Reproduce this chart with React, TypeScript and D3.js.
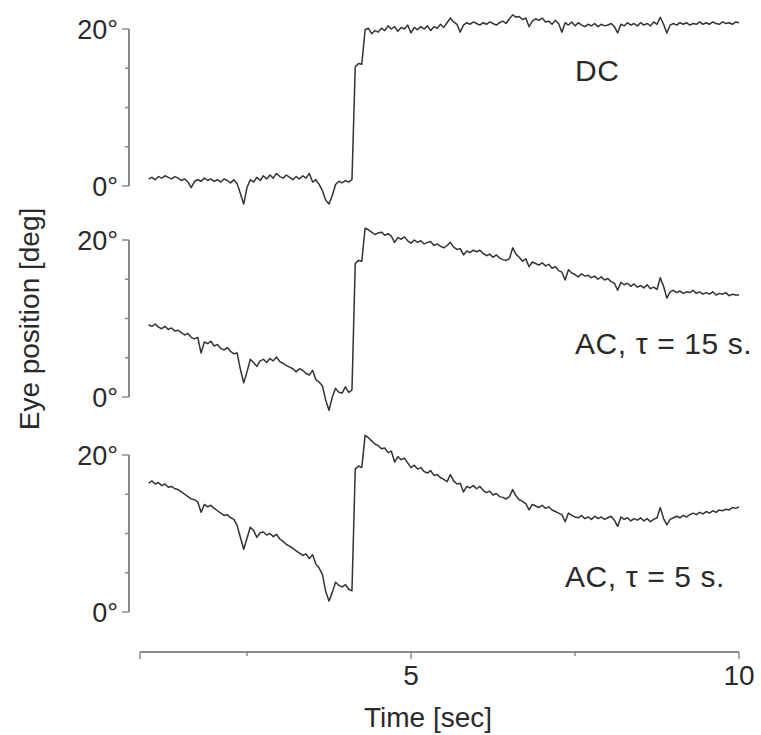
import React from 'react';
import * as d3 from 'd3';

// eye position traces, sampled every 0.05 s from t = 1 s to t = 10 s (degrees)
const SAMPLE_START = 1;
const SAMPLE_STEP = 0.05;

const dcTrace = [
  0.9, 1.1, 0.8, 1.2, 1.0, 1.3, 1.1, 0.9, 1.2, 1.0,
  0.7, 0.9, 0.5, -0.2, 0.6, 0.8, 0.6, 1.0, 0.7, 0.9,
  0.6, 0.8, 0.5, 0.9, 0.7, 0.4, 0.8, 0.3, -1.0, -2.3,
  -0.2, 0.8, 0.5, 1.1, 0.7, 1.3, 0.9, 1.4, 1.0, 1.6,
  1.2, 1.0, 1.4, 1.1, 0.8, 1.2, 0.9, 1.3, 1.0, 1.6,
  0.5, 0.8, 0.2, -0.6, -1.8, -2.3, -1.2, 0.2, 0.6, 0.4,
  0.7, 0.5, 0.8, 15.2, 15.6, 15.5, 19.9, 20.1, 19.4, 19.8,
  19.6, 20.1, 19.8, 20.4, 20.0, 20.3, 19.7, 20.2, 20.0, 20.5,
  19.5, 20.2, 19.9, 20.3, 20.0, 20.4, 19.8, 20.3, 20.1, 20.6,
  20.2, 20.8, 21.4, 20.9, 20.6, 19.6, 20.5, 20.8, 20.6, 20.9,
  20.7, 20.5, 20.8, 20.6, 20.9, 20.7, 20.5, 20.8, 21.0, 20.7,
  21.3, 21.8, 21.5, 21.6, 21.2, 21.4, 20.3, 21.0, 21.3, 21.1,
  21.4, 20.9, 21.0, 20.6, 21.1, 20.7, 19.6, 20.8, 20.5, 20.9,
  20.4, 20.8, 20.5, 20.3, 20.6, 20.4, 20.7, 20.3, 20.6, 20.4,
  20.5, 20.7, 20.3, 19.5, 20.6, 20.4, 20.8, 20.5, 20.7, 20.4,
  20.8, 20.5, 20.7, 20.4, 20.9, 20.6, 21.5, 20.6, 19.5, 20.5,
  20.7, 20.5, 20.8, 20.6, 20.8, 20.5, 20.7, 20.6, 20.9, 20.6,
  20.8, 20.6, 20.9, 20.7, 20.6, 20.9, 20.7, 20.8, 20.6, 20.9,
  20.8,
];

const ac15Trace = [
  9.2, 9.0, 9.3, 8.9, 8.7, 9.0, 8.6, 8.8, 8.4, 8.5,
  8.2, 7.9, 8.1, 7.6, 7.4, 7.6, 5.6, 7.0, 6.8, 7.1,
  6.5, 6.7, 6.2, 6.0, 6.3, 5.8, 5.5, 5.6, 3.5, 1.8,
  3.2, 4.8, 4.4, 3.9, 4.6, 4.8, 4.4, 4.9, 4.6, 5.1,
  4.5, 4.3, 4.0, 3.8, 3.6, 3.2, 3.6, 3.4, 3.0, 2.8,
  3.4, 2.2, 1.9, 1.4, -0.4, -1.7, 0.0, 1.1, 0.6, 0.5,
  1.3, 0.6, 0.9, 17.0, 17.4, 17.3, 21.5, 21.3, 21.0, 20.7,
  20.9, 21.0, 20.6, 20.8, 20.5, 19.7, 20.3, 20.1, 20.4, 19.9,
  19.6, 20.0, 19.7, 19.9, 19.5, 19.7, 19.8, 19.3, 19.5, 19.2,
  19.0, 19.3, 19.7, 19.1, 18.8, 18.9, 18.1, 18.6, 18.4, 18.7,
  18.5, 18.7, 18.3, 18.0, 18.2, 17.8, 18.1, 17.7, 17.5, 17.4,
  17.6, 19.0, 18.2, 17.8, 17.3, 17.6, 16.6, 17.2, 17.0, 16.8,
  17.1, 16.7, 16.9, 16.4, 16.6, 16.1, 15.9, 14.9, 16.2, 15.8,
  15.6, 15.3, 15.7, 15.4, 15.5, 15.2, 15.4, 15.0, 15.3, 14.9,
  15.1, 14.7, 14.5, 13.6, 14.6, 14.3, 14.5, 14.1, 14.4, 14.0,
  14.2, 13.9, 14.3, 13.8, 14.0, 13.7, 15.2, 14.1, 12.6, 13.4,
  13.6, 13.3, 13.5, 13.2, 13.4, 13.3, 13.6, 13.2, 13.4, 13.1,
  13.3, 13.1, 13.4, 13.0, 13.2, 13.1, 13.3, 12.9, 13.1, 13.0,
  13.0,
];

const ac5Trace = [
  16.4, 16.7, 16.3, 16.5, 16.1, 16.3, 15.9, 16.0, 15.7, 15.6,
  15.3, 15.0, 14.7, 14.4, 14.3, 14.0, 12.7, 13.7, 13.4, 13.6,
  13.2, 12.9, 12.6, 12.3, 12.4, 12.0, 11.8, 11.0, 9.5, 8.0,
  9.4, 10.8, 10.4, 9.5, 10.1, 10.2, 9.8, 10.0, 9.6, 9.9,
  9.3, 9.0, 8.6, 8.4, 8.1, 7.8, 7.5, 7.2, 7.4, 6.8,
  7.3, 6.1, 5.6, 4.8, 2.6, 1.4, 2.5, 3.8, 3.4, 3.2,
  3.5, 2.9, 2.7, 18.2, 18.6, 18.4, 22.5, 22.2, 21.8, 21.4,
  21.2, 20.8, 20.9, 20.3, 20.5, 19.1, 19.8, 19.4, 19.6, 19.0,
  18.4, 18.7, 18.2, 18.4, 17.9, 17.7, 18.0, 17.4, 17.5, 17.1,
  16.9, 16.6, 17.5, 16.7, 16.3, 16.4, 15.3, 16.0, 15.8, 16.1,
  15.7, 16.0, 15.5, 15.2, 15.4, 14.9, 15.1, 14.7, 14.6, 14.4,
  14.7, 15.6, 14.8, 14.3, 14.1, 13.8, 13.0, 13.7, 13.5, 13.3,
  13.6, 13.2, 13.4, 13.0, 12.8, 12.6, 12.4, 11.5, 12.6, 12.3,
  12.1, 12.0, 12.3, 11.9, 12.1, 11.8, 12.2, 11.9, 12.1, 11.8,
  12.0, 12.2, 11.7, 10.9, 12.1, 11.8, 12.0, 11.6, 11.9, 11.7,
  12.0, 11.6, 11.9, 11.5, 11.8, 12.0, 13.3, 11.9, 11.1, 11.8,
  12.0, 12.2, 12.0, 12.3, 12.1, 12.4, 12.6, 12.4, 12.7, 12.5,
  12.8, 12.6, 12.9, 12.7, 13.0, 12.9, 13.1, 13.0, 13.3, 13.2,
  13.4,
];

const panelLabels = ['DC', 'AC, \u03c4 = 15 s.', 'AC, \u03c4 = 5 s.'];
const yTicks = [0, 5, 10, 15, 20];
const yTickLabels = ['0\u00b0', '20\u00b0'];
const xTicks = [2.5, 5, 7.5, 10];
const xTickLabels = ['5', '10'];

const W = 761;
const H = 735;
const FONT = '"Liberation Sans", Arial, Helvetica, sans-serif';
const INK = '#2a2a2a';
const AXIS = '#8a8a8a';

const panelTop = [29, 240, 455];
const panelH = 157;
const labelPos = [
  { x: 575, y: 81 },
  { x: 575, y: 354 },
  { x: 565, y: 587 },
];
const yAxisX = 129;
const xAxisY = 652;

const x = d3.scaleLinear().domain([5, 10]).range([411, 739]);
const xStart = 0.87;

const line = (y: d3.ScaleLinear<number, number>) =>
  d3.line<number>()
    .x((_, i) => x(SAMPLE_START + i * SAMPLE_STEP))
    .y((v) => y(v));

export default function App() {
  const traces = [dcTrace, ac15Trace, ac5Trace];
  return (
    <svg width={W} height={H} style={{ position: 'absolute', left: 0, top: 0, background: '#fff' }}
      fontFamily={FONT}>
      {traces.map((tr, k) => {
        const y = d3.scaleLinear().domain([0, 20]).range([panelTop[k] + panelH, panelTop[k]]);
        return (
          <g key={k}>
            <line x1={yAxisX} x2={yAxisX} y1={y(0)} y2={y(20)} stroke={AXIS} strokeWidth={2} />
            {yTicks.map((t) => (
              <line key={t} x1={yAxisX - (t % 20 === 0 ? 7 : 4)} x2={yAxisX} y1={y(t)} y2={y(t)}
                stroke={AXIS} strokeWidth={1.5} />
            ))}
            {[0, 20].map((t, j) => (
              <text key={t} x={118} y={y(t)} dy="0.36em" textAnchor="end" fontSize={27} fill={INK}>
                {yTickLabels[j]}
              </text>
            ))}
            <path d={line(y)(tr) || ''} fill="none" stroke="#333" strokeWidth={1.5} strokeLinejoin="round" />
            <text x={labelPos[k].x} y={labelPos[k].y} fontSize={30} letterSpacing={0.6} fill={INK}>
              {panelLabels[k]}
            </text>
          </g>
        );
      })}
      <g>
        <line x1={x(xStart)} x2={x(10)} y1={xAxisY} y2={xAxisY} stroke={AXIS} strokeWidth={2} />
        <line x1={x(xStart)} x2={x(xStart)} y1={xAxisY} y2={xAxisY + 7} stroke={AXIS} strokeWidth={1.5} />
        {xTicks.map((t) => (
          <line key={t} x1={x(t)} x2={x(t)} y1={xAxisY} y2={xAxisY + (t % 5 === 0 ? 7 : 4)}
            stroke={AXIS} strokeWidth={1.5} />
        ))}
        {[5, 10].map((t, j) => (
          <text key={t} x={x(t)} y={685} textAnchor="middle" fontSize={28} fill={INK}>{xTickLabels[j]}</text>
        ))}
        <text x={428} y={727} textAnchor="middle" fontSize={28} fill={INK}>Time [sec]</text>
      </g>
      <text transform="translate(39,319) rotate(-90)" textAnchor="middle" fontSize={28} fill={INK}>
        Eye position [deg]
      </text>
    </svg>
  );
}
